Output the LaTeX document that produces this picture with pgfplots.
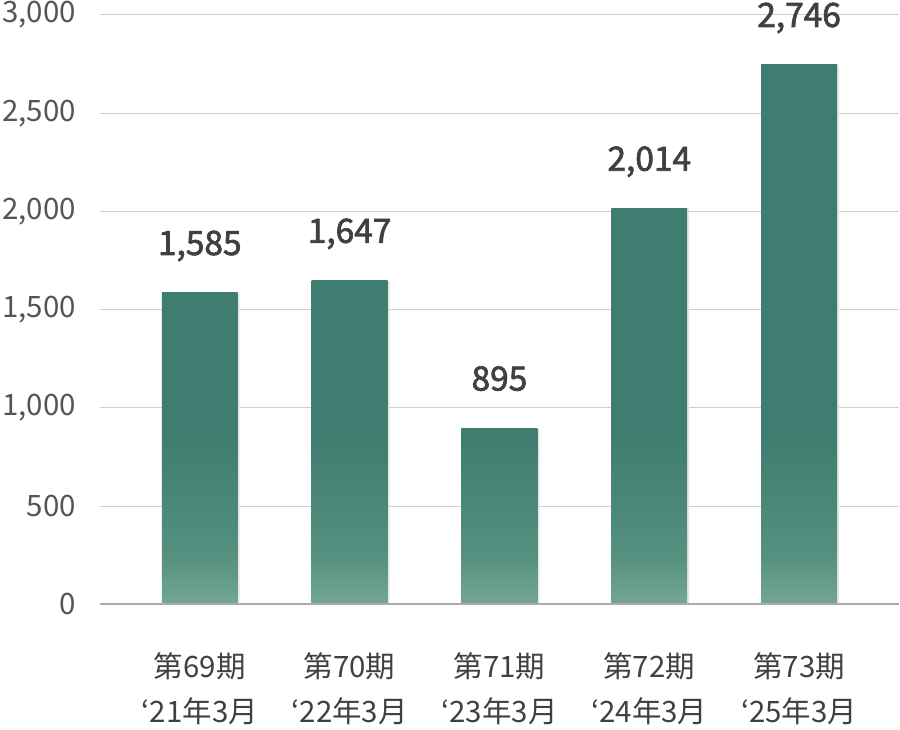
\documentclass[border=0pt]{standalone}
\usepackage{fontspec}
\setmainfont{Noto Sans CJK JP}
\usepackage{pgfplots}
\pgfplotsset{compat=1.18}
\definecolor{barDark}{HTML}{3F7D70}
\definecolor{barMid}{HTML}{55907F}
\definecolor{barLight}{HTML}{74A797}
\definecolor{gridc}{HTML}{CFCFCF}
\definecolor{basec}{HTML}{ABABAB}
\definecolor{tickc}{HTML}{555555}
\definecolor{labc}{HTML}{404040}
\pgfdeclareverticalshading{fadeA}{100bp}{color(0bp)=(barLight); color(25bp)=(barLight); color(32.886bp)=(barMid); color(51.814bp)=(barDark); color(100bp)=(barDark)}
\pgfdeclareverticalshading{fadeB}{100bp}{color(0bp)=(barLight); color(25bp)=(barLight); color(32.590bp)=(barMid); color(50.804bp)=(barDark); color(100bp)=(barDark)}
\pgfdeclareverticalshading{fadeC}{100bp}{color(0bp)=(barLight); color(25bp)=(barLight); color(38.966bp)=(barMid); color(72.486bp)=(barDark); color(100bp)=(barDark)}
\pgfdeclareverticalshading{fadeD}{100bp}{color(0bp)=(barLight); color(25bp)=(barLight); color(31.206bp)=(barMid); color(46.102bp)=(barDark); color(100bp)=(barDark)}
\pgfdeclareverticalshading{fadeE}{100bp}{color(0bp)=(barLight); color(25bp)=(barLight); color(29.552bp)=(barMid); color(40.477bp)=(barDark); color(100bp)=(barDark)}
\begin{document}
\begin{tikzpicture}
\begin{axis}[
  scale only axis, width=800pt, height=590pt,
  xmin=-0.6667, xmax=4.6667, ymin=0, ymax=3000,
  clip=false,
  axis line style={draw=none},
  major tick length=0pt,
  ymajorgrids, grid style={gridc, line width=1pt},
  ytick={0,500,1000,1500,2000,2500,3000},
  xtick={0,1,2,3,4},
  xticklabels={{第69期\\‘21年3月},{第70期\\‘22年3月},{第71期\\‘23年3月},{第72期\\‘24年3月},{第73期\\‘25年3月}},
  xticklabel style={align=center, font=\fontsize{29.5}{45}\selectfont, text=labc, anchor=north, yshift=-48pt, inner sep=0pt},
  yticklabel style={font=\fontsize{29.5}{32}\selectfont, text=tickc, anchor=east, xshift=-24pt, inner sep=0pt},
  /pgf/number format/.cd, 1000 sep={,}, assume math mode=true,
]
\addplot[ybar, bar width=76pt, bar shift=2pt, fill=black!10, draw=none] coordinates {(0,1585)(1,1647)(2,895)(3,2014)(4,2746)};
\addplot[ybar, bar width=76pt, bar shift=0pt, draw=none, shading=fadeA] coordinates {(0,1585)};
\addplot[ybar, bar width=76pt, bar shift=0pt, draw=none, shading=fadeB] coordinates {(1,1647)};
\addplot[ybar, bar width=76pt, bar shift=0pt, draw=none, shading=fadeC] coordinates {(2,895)};
\addplot[ybar, bar width=76pt, bar shift=0pt, draw=none, shading=fadeD] coordinates {(3,2014)};
\addplot[ybar, bar width=76pt, bar shift=0pt, draw=none, shading=fadeE] coordinates {(4,2746)};
\addplot[ybar, bar width=76pt, bar shift=0pt, draw=none, fill=none,
  nodes near coords,
  every node near coord/.append style={font=\fontsize{33.5}{36}\selectfont, text=labc, anchor=base, yshift=38pt, inner sep=0pt,
    execute at begin node={\special{pdf:literal direct 2 Tr 0.7 w}},
    execute at end node={\special{pdf:literal direct 0 Tr}}}]
  coordinates {(0,1585)(1,1647)(2,895)(3,2014)(4,2746)};
\draw[basec, line width=2pt] (axis cs:-0.6667,0) -- (axis cs:4.6667,0);
\end{axis}
\useasboundingbox ([xshift=-100pt,yshift=-125pt]current axis.south west) rectangle ([yshift=15pt]current axis.north east);
\end{tikzpicture}
\end{document}
